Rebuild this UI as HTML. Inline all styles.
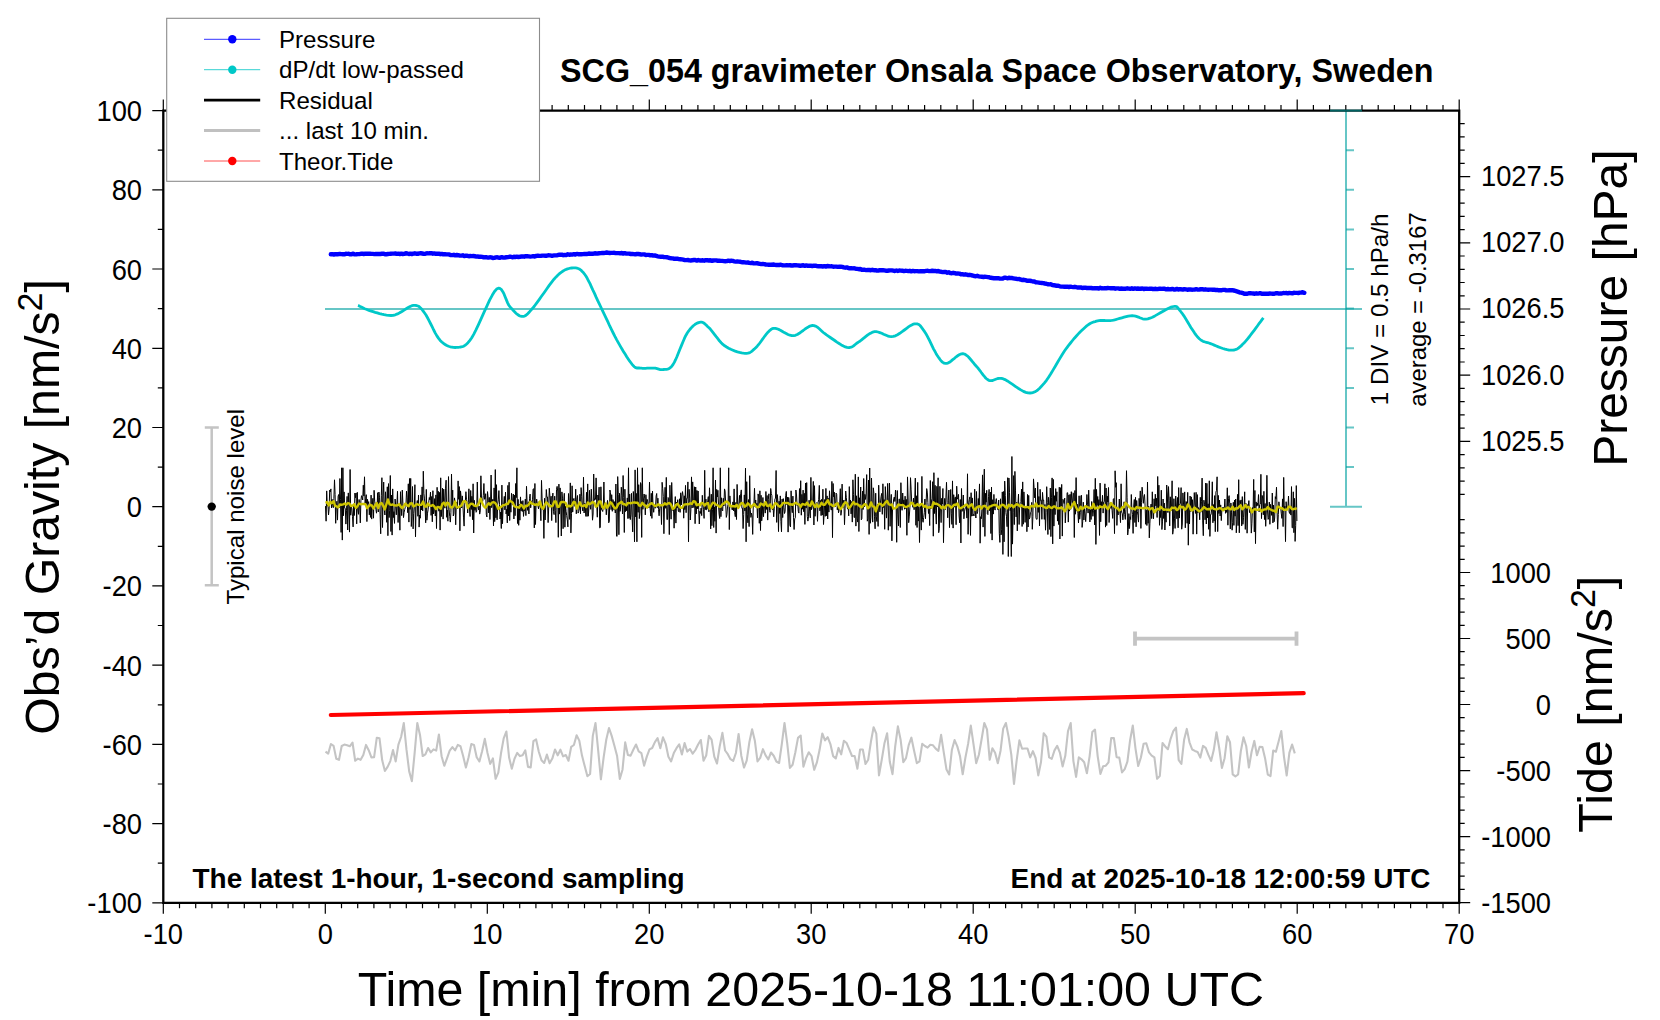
<!DOCTYPE html>
<html><head><meta charset="utf-8"><style>
html,body{margin:0;padding:0;background:#fff;width:1660px;height:1020px;overflow:hidden}
svg{display:block}
</style></head><body>
<svg width="1660" height="1020" viewBox="0 0 1660 1020" font-family='"Liberation Sans", sans-serif' fill="#000">
<rect width="1660" height="1020" fill="#fff"/>
<path d="M152.3 902.8H163.3M157.8 863.2H163.3M152.3 823.6H163.3M157.8 784H163.3M152.3 744.4H163.3M157.8 704.8H163.3M152.3 665.1H163.3M157.8 625.5H163.3M152.3 585.9H163.3M157.8 546.3H163.3M152.3 506.7H163.3M157.8 467.1H163.3M152.3 427.5H163.3M157.8 387.9H163.3M152.3 348.3H163.3M157.8 308.6H163.3M152.3 269H163.3M157.8 229.4H163.3M152.3 189.8H163.3M157.8 150.2H163.3M152.3 110.6H163.3M163.3 902.8V913.8M163.3 99.6V110.6M179.5 902.8V908.3M179.5 105.1V110.6M195.7 902.8V908.3M195.7 105.1V110.6M211.9 902.8V908.3M211.9 105.1V110.6M228.1 902.8V908.3M228.1 105.1V110.6M244.3 902.8V908.3M244.3 105.1V110.6M260.5 902.8V908.3M260.5 105.1V110.6M276.7 902.8V908.3M276.7 105.1V110.6M292.9 902.8V908.3M292.9 105.1V110.6M309.1 902.8V908.3M309.1 105.1V110.6M325.3 902.8V913.8M325.3 99.6V110.6M341.5 902.8V908.3M341.5 105.1V110.6M357.7 902.8V908.3M357.7 105.1V110.6M373.9 902.8V908.3M373.9 105.1V110.6M390.1 902.8V908.3M390.1 105.1V110.6M406.3 902.8V908.3M406.3 105.1V110.6M422.5 902.8V908.3M422.5 105.1V110.6M438.7 902.8V908.3M438.7 105.1V110.6M454.9 902.8V908.3M454.9 105.1V110.6M471.1 902.8V908.3M471.1 105.1V110.6M487.3 902.8V913.8M487.3 99.6V110.6M503.5 902.8V908.3M503.5 105.1V110.6M519.7 902.8V908.3M519.7 105.1V110.6M535.9 902.8V908.3M535.9 105.1V110.6M552.1 902.8V908.3M552.1 105.1V110.6M568.3 902.8V908.3M568.3 105.1V110.6M584.5 902.8V908.3M584.5 105.1V110.6M600.7 902.8V908.3M600.7 105.1V110.6M616.9 902.8V908.3M616.9 105.1V110.6M633.1 902.8V908.3M633.1 105.1V110.6M649.3 902.8V913.8M649.3 99.6V110.6M665.5 902.8V908.3M665.5 105.1V110.6M681.7 902.8V908.3M681.7 105.1V110.6M697.9 902.8V908.3M697.9 105.1V110.6M714.1 902.8V908.3M714.1 105.1V110.6M730.3 902.8V908.3M730.3 105.1V110.6M746.5 902.8V908.3M746.5 105.1V110.6M762.7 902.8V908.3M762.7 105.1V110.6M778.9 902.8V908.3M778.9 105.1V110.6M795.1 902.8V908.3M795.1 105.1V110.6M811.2 902.8V913.8M811.2 99.6V110.6M827.4 902.8V908.3M827.4 105.1V110.6M843.6 902.8V908.3M843.6 105.1V110.6M859.8 902.8V908.3M859.8 105.1V110.6M876 902.8V908.3M876 105.1V110.6M892.2 902.8V908.3M892.2 105.1V110.6M908.4 902.8V908.3M908.4 105.1V110.6M924.6 902.8V908.3M924.6 105.1V110.6M940.8 902.8V908.3M940.8 105.1V110.6M957 902.8V908.3M957 105.1V110.6M973.2 902.8V913.8M973.2 99.6V110.6M989.4 902.8V908.3M989.4 105.1V110.6M1005.6 902.8V908.3M1005.6 105.1V110.6M1021.8 902.8V908.3M1021.8 105.1V110.6M1038 902.8V908.3M1038 105.1V110.6M1054.2 902.8V908.3M1054.2 105.1V110.6M1070.4 902.8V908.3M1070.4 105.1V110.6M1086.6 902.8V908.3M1086.6 105.1V110.6M1102.8 902.8V908.3M1102.8 105.1V110.6M1119 902.8V908.3M1119 105.1V110.6M1135.2 902.8V913.8M1135.2 99.6V110.6M1151.4 902.8V908.3M1151.4 105.1V110.6M1167.6 902.8V908.3M1167.6 105.1V110.6M1183.8 902.8V908.3M1183.8 105.1V110.6M1200 902.8V908.3M1200 105.1V110.6M1216.2 902.8V908.3M1216.2 105.1V110.6M1232.4 902.8V908.3M1232.4 105.1V110.6M1248.6 902.8V908.3M1248.6 105.1V110.6M1264.8 902.8V908.3M1264.8 105.1V110.6M1281 902.8V908.3M1281 105.1V110.6M1297.2 902.8V913.8M1297.2 99.6V110.6M1313.4 902.8V908.3M1313.4 105.1V110.6M1329.6 902.8V908.3M1329.6 105.1V110.6M1345.8 902.8V908.3M1345.8 105.1V110.6M1362 902.8V908.3M1362 105.1V110.6M1378.2 902.8V908.3M1378.2 105.1V110.6M1394.4 902.8V908.3M1394.4 105.1V110.6M1410.6 902.8V908.3M1410.6 105.1V110.6M1426.8 902.8V908.3M1426.8 105.1V110.6M1443 902.8V908.3M1443 105.1V110.6M1459.2 902.8V913.8M1459.2 99.6V110.6M1459.2 494.4H1464.7M1459.2 481.1H1464.7M1459.2 467.9H1464.7M1459.2 454.6H1464.7M1459.2 441.4H1470.2M1459.2 428.2H1464.7M1459.2 414.9H1464.7M1459.2 401.7H1464.7M1459.2 388.4H1464.7M1459.2 375.2H1470.2M1459.2 362H1464.7M1459.2 348.7H1464.7M1459.2 335.5H1464.7M1459.2 322.2H1464.7M1459.2 309H1470.2M1459.2 295.8H1464.7M1459.2 282.5H1464.7M1459.2 269.3H1464.7M1459.2 256H1464.7M1459.2 242.8H1470.2M1459.2 229.6H1464.7M1459.2 216.3H1464.7M1459.2 203.1H1464.7M1459.2 189.8H1464.7M1459.2 176.6H1470.2M1459.2 163.4H1464.7M1459.2 150.1H1464.7M1459.2 136.9H1464.7M1459.2 123.6H1464.7M1459.2 902.6H1470.2M1459.2 889.4H1464.7M1459.2 876.2H1464.7M1459.2 863H1464.7M1459.2 849.8H1464.7M1459.2 836.6H1470.2M1459.2 823.4H1464.7M1459.2 810.2H1464.7M1459.2 797H1464.7M1459.2 783.8H1464.7M1459.2 770.6H1470.2M1459.2 757.4H1464.7M1459.2 744.2H1464.7M1459.2 730.9H1464.7M1459.2 717.7H1464.7M1459.2 704.5H1470.2M1459.2 691.3H1464.7M1459.2 678.1H1464.7M1459.2 664.9H1464.7M1459.2 651.7H1464.7M1459.2 638.5H1470.2M1459.2 625.3H1464.7M1459.2 612.1H1464.7M1459.2 598.9H1464.7M1459.2 585.7H1464.7M1459.2 572.5H1470.2M1459.2 559.3H1464.7M1459.2 546.1H1464.7M1459.2 532.9H1464.7M1459.2 519.7H1464.7" stroke="#000" stroke-width="1.2" fill="none"/>
<path d="M330.8 254.2 332.3 254.2 333.8 254.5 335.3 254.1 336.8 254.2 338.3 254.2 339.8 253.9 341.3 254.1 342.8 254.2 344.3 254.3 345.8 253.8 347.3 253.9 348.8 253.8 350.3 254.3 351.8 254.2 353.3 253.7 354.8 254.4 356.3 254.3 357.8 254.1 359.3 254.1 360.8 253.8 362.3 253.6 363.8 254 365.3 253.7 366.8 253.7 368.3 253.8 369.8 253.6 371.3 253.9 372.8 253.9 374.3 254.1 375.8 253.9 377.3 254 378.8 253.9 380.3 254 381.8 253.8 383.3 253.7 384.8 254.2 386.3 254.2 387.8 254 389.3 253.9 390.8 253.7 392.3 253.6 393.8 253.6 395.3 253.5 396.8 253.9 398.3 253.7 399.8 254 401.3 253.6 402.8 254 404.3 253.9 405.8 253.3 407.3 253.5 408.8 254 410.3 253.6 411.8 254 413.3 253.6 414.8 253.3 416.3 253.7 417.8 253.8 419.3 253.4 420.8 253.3 422.3 253.5 423.8 253.9 425.3 253.7 426.8 253.3 428.3 253.4 429.8 253.2 431.3 253.2 432.8 253.7 434.3 253.4 435.8 253.8 437.3 253.8 438.8 253.7 440.3 254.2 441.8 253.9 443.3 254.4 444.8 254.1 446.3 254.4 447.8 254.4 449.3 254.5 450.8 255.1 452.3 255.1 453.8 254.8 455.3 255.4 456.8 255 458.3 255.2 459.8 255.6 461.3 255.6 462.8 255.3 464.3 256.1 465.8 255.6 467.3 255.8 468.8 256.2 470.3 256 471.8 256.1 473.3 256 474.8 256.2 476.3 256.6 477.8 256.5 479.3 256.8 480.8 256.8 482.3 256.9 483.8 257.4 485.3 257.2 486.8 257.3 488.3 257.6 489.8 257.3 491.3 257.4 492.8 258 494.3 257.9 495.8 257.4 497.3 257.3 498.8 257.7 500.3 257.7 501.8 257.2 503.3 257.6 504.8 257.5 506.3 257.3 507.8 257.1 509.3 256.8 510.8 256.7 512.3 257.3 513.8 256.8 515.3 257 516.8 256.7 518.3 257 519.8 256.8 521.3 256.5 522.8 256.4 524.3 256.7 525.8 256.2 527.3 256.3 528.8 256.4 530.3 256.6 531.8 256.4 533.3 256.1 534.8 256.5 536.3 255.9 537.8 255.7 539.3 255.9 540.8 255.9 542.3 255.6 543.8 255.6 545.3 255.7 546.8 255.7 548.3 255.3 549.8 255.4 551.3 255.7 552.8 255.7 554.3 255.4 555.8 255.4 557.3 255.2 558.8 254.8 560.3 254.7 561.8 254.6 563.3 255.2 564.8 254.9 566.3 255.1 567.8 254.3 569.3 254.7 570.8 254.5 572.3 254.6 573.8 254.2 575.3 254.6 576.8 253.9 578.3 254.2 579.8 254.2 581.3 254.3 582.8 254.1 584.3 254 585.8 254 587.3 254 588.8 253.5 590.3 253.7 591.8 253.8 593.3 253.7 594.8 253.3 596.3 253.5 597.8 253.5 599.3 253.2 600.8 253.1 602.3 252.9 603.8 253 605.3 252.9 606.8 252.5 608.3 252.8 609.8 253 611.3 252.9 612.8 252.9 614.3 252.8 615.8 253.1 617.3 253.1 618.8 253.1 620.3 253.4 621.8 253 623.3 253.6 624.8 253.2 626.3 253.6 627.8 253.6 629.3 253.6 630.8 254 632.3 253.9 633.8 254.1 635.3 254.4 636.8 254 638.3 254 639.8 254.2 641.3 254.6 642.8 254.4 644.3 254.4 645.8 255 647.3 254.9 648.8 254.9 650.3 255.3 651.8 255.1 653.3 255.6 654.8 255.5 656.3 255.9 657.8 256.3 659.3 256.6 660.8 256.8 662.3 256.7 663.8 257 665.3 257.1 666.8 257.2 668.3 257.6 669.8 258.1 671.3 258.3 672.8 258.4 674.3 258.8 675.8 258.6 677.3 258.7 678.8 259.1 680.3 259.2 681.8 259.4 683.3 259.7 684.8 260.1 686.3 260.1 687.8 260 689.3 260.4 690.8 260.5 692.3 260.2 693.8 260 695.3 260 696.8 260.6 698.3 260 699.8 260.5 701.3 260.5 702.8 260.3 704.3 260.7 705.8 260.2 707.3 260.3 708.8 260.5 710.3 260.3 711.8 260.9 713.3 260.5 714.8 260.4 716.3 260.4 717.8 260.8 719.3 260.7 720.8 260.9 722.3 260.9 723.8 261.1 725.3 261.2 726.8 261.1 728.3 260.7 729.8 261 731.3 260.8 732.8 260.9 734.3 261.3 735.8 261.6 737.3 261.4 738.8 261.6 740.3 261.8 741.8 262.2 743.3 262.2 744.8 262.4 746.3 262.6 747.8 262.5 749.3 262.9 750.8 263.1 752.3 262.7 753.8 263.4 755.3 263.4 756.8 263.1 758.3 263.5 759.8 263.8 761.3 264.1 762.8 263.9 764.3 264.1 765.8 264.5 767.3 264.6 768.8 264.8 770.3 264.6 771.8 264.8 773.3 264.5 774.8 264.9 776.3 265 777.8 264.9 779.3 265 780.8 264.7 782.3 265.3 783.8 265.4 785.3 265.4 786.8 265.1 788.3 265.4 789.8 265.1 791.3 265.5 792.8 265.5 794.3 265.2 795.8 265.1 797.3 265.4 798.8 265.5 800.3 265.7 801.8 265.5 803.3 265.3 804.8 265.9 806.3 265.4 807.8 265.9 809.3 265.6 810.8 265.7 812.3 266.1 813.8 265.7 815.3 265.7 816.8 266 818.3 266.2 819.8 266.3 821.3 266.3 822.8 266.5 824.3 266.2 825.8 266.6 827.3 266 828.8 266.2 830.3 266.4 831.8 266.3 833.3 266.7 834.8 266.6 836.3 266.6 837.8 266.9 839.3 266.7 840.8 266.7 842.3 266.9 843.8 267.4 845.3 267.7 846.8 267.4 848.3 268 849.8 268.3 851.3 268.2 852.8 268.4 854.3 268.3 855.8 268.7 857.3 268.9 858.8 269.2 860.3 269 861.8 269.8 863.3 269.7 864.8 269.8 866.3 270.1 867.8 270 869.3 270 870.8 270.2 872.3 269.8 873.8 270.2 875.3 270.1 876.8 270.5 878.3 270.6 879.8 270.1 881.3 270.3 882.8 270.1 884.3 270.4 885.8 270.7 887.3 270.8 888.8 270.5 890.3 270.4 891.8 270.4 893.3 270.7 894.8 271 896.3 270.5 897.8 271 899.3 270.5 900.8 270.6 902.3 270.7 903.8 271.1 905.3 270.8 906.8 270.9 908.3 271.1 909.8 270.8 911.3 271.3 912.8 270.9 914.3 271.2 915.8 271.1 917.3 271.1 918.8 271.4 920.3 271.3 921.8 271.3 923.3 271.2 924.8 271.2 926.3 270.9 927.8 270.8 929.3 271.1 930.8 271 932.3 270.8 933.8 271 935.3 270.9 936.8 271.3 938.3 271 939.8 271.6 941.3 271.8 942.8 272.1 944.3 271.9 945.8 272 947.3 272.7 948.8 272.3 950.3 273.1 951.8 273.2 953.3 272.8 954.8 273.1 956.3 273.6 957.8 273.5 959.3 273.6 960.8 274.3 962.3 274.2 963.8 274.6 965.3 274.3 966.8 274.7 968.3 275.1 969.8 274.8 971.3 275.1 972.8 275.7 974.3 276 975.8 276.2 977.3 275.8 978.8 276.3 980.3 276.6 981.8 276.7 983.3 277 984.8 276.8 986.3 276.9 987.8 277.1 989.3 277.3 990.8 277.8 992.3 278 993.8 278.2 995.3 278.1 996.8 278.3 998.3 278.2 999.8 278.6 1001.3 278.6 1002.8 278.5 1004.3 277.8 1005.8 277.7 1007.3 278.3 1008.8 277.8 1010.3 278 1011.8 278 1013.3 278.3 1014.8 278.6 1016.3 278.8 1017.8 279.1 1019.3 279 1020.8 279.7 1022.3 280 1023.8 279.8 1025.3 280.2 1026.8 280.7 1028.3 280.7 1029.8 280.8 1031.3 281 1032.8 281.5 1034.3 281.4 1035.8 282.2 1037.3 282.4 1038.8 282.6 1040.3 282.9 1041.8 283 1043.3 283.1 1044.8 283.5 1046.3 283.7 1047.8 284.3 1049.3 284.4 1050.8 284.3 1052.3 285 1053.8 285.2 1055.3 285.5 1056.8 285.8 1058.3 285.7 1059.8 286.3 1061.3 286.6 1062.8 286.6 1064.3 286.7 1065.8 286.8 1067.3 286.7 1068.8 287 1070.3 286.6 1071.8 286.9 1073.3 287.1 1074.8 286.8 1076.3 287.2 1077.8 287.5 1079.3 287.5 1080.8 287.4 1082.3 288 1083.8 287.8 1085.3 287.7 1086.8 288 1088.3 288 1089.8 288 1091.3 288 1092.8 288.4 1094.3 288.2 1095.8 288.2 1097.3 288.3 1098.8 288.5 1100.3 287.8 1101.8 288.3 1103.3 288.4 1104.8 288.1 1106.3 288.2 1107.8 288 1109.3 288.1 1110.8 288.2 1112.3 288.1 1113.8 288.2 1115.3 288.7 1116.8 288.4 1118.3 288.4 1119.8 288.8 1121.3 288.5 1122.8 288.8 1124.3 288.6 1125.8 288.7 1127.3 288.3 1128.8 288.6 1130.3 288.8 1131.8 288.3 1133.3 288.9 1134.8 288.4 1136.3 288.7 1137.8 288.5 1139.3 288.7 1140.8 288.8 1142.3 288.4 1143.8 289.1 1145.3 288.7 1146.8 288.8 1148.3 288.9 1149.8 288.8 1151.3 288.7 1152.8 289 1154.3 289 1155.8 288.8 1157.3 289.1 1158.8 288.8 1160.3 288.7 1161.8 288.9 1163.3 288.7 1164.8 288.8 1166.3 289.3 1167.8 289 1169.3 289.4 1170.8 289.3 1172.3 288.9 1173.8 289.5 1175.3 289.5 1176.8 288.9 1178.3 289.5 1179.8 289.2 1181.3 289.3 1182.8 289.6 1184.3 289.1 1185.8 289.4 1187.3 289.7 1188.8 289.5 1190.3 289.4 1191.8 289.7 1193.3 289.6 1194.8 289.5 1196.3 289.2 1197.8 289.6 1199.3 289.5 1200.8 289.3 1202.3 289.2 1203.8 289.6 1205.3 289.3 1206.8 289.6 1208.3 289.7 1209.8 289.6 1211.3 289.6 1212.8 289.8 1214.3 289.8 1215.8 290 1217.3 289.9 1218.8 290.3 1220.3 290.3 1221.8 290.2 1223.3 289.9 1224.8 289.9 1226.3 290.4 1227.8 290.4 1229.3 290.3 1230.8 290.2 1232.3 290.2 1233.8 290.5 1235.3 290.9 1236.8 291.4 1238.3 291.9 1239.8 292.5 1241.3 292.6 1242.8 293.1 1244.3 293.8 1245.8 293.8 1247.3 293.8 1248.8 293.2 1250.3 293.2 1251.8 293.4 1253.3 293.5 1254.8 293.7 1256.3 293.3 1257.8 293.6 1259.3 293.3 1260.8 293.3 1262.3 293.8 1263.8 293.7 1265.3 293.8 1266.8 293.6 1268.3 293.7 1269.8 293.5 1271.3 293.6 1272.8 293.8 1274.3 293.8 1275.8 293.2 1277.3 293.2 1278.8 293.6 1280.3 293.4 1281.8 293.5 1283.3 293 1284.8 293.1 1286.3 293 1287.8 293.3 1289.3 292.9 1290.8 293.1 1292.3 293.3 1293.8 292.8 1295.3 292.9 1296.8 292.9 1298.3 293 1299.8 292.6 1301.3 292.5 1302.8 292.3 1304.3 292.8" stroke="#0000ff" stroke-width="4.4" fill="none" stroke-linejoin="round" stroke-linecap="round"/>
<g stroke="#00a0a0" stroke-opacity="0.6" stroke-width="2" fill="none">
<path d="M325 309H1362"/>
<path d="M1346 110.6V506.8M1330 506.8H1362"/>
<path d="M1346 467.1H1354M1346 427.5H1354M1346 387.9H1354M1346 348.3H1354M1346 308.6H1354M1346 269H1354M1346 229.4H1354M1346 189.8H1354M1346 150.2H1354"/>
</g>
<path d="M358 305.4 358.8 305.7 359.7 306.2 360.7 306.7 361.9 307.3 363.3 308 364.7 308.7 366.3 309.3 367.9 310 369.6 310.6 371.3 311.1 373.1 311.6 375.2 312.3 377.3 312.9 379.5 313.6 381.8 314.2 384.1 314.7 386.5 315.1 388.8 315.4 391 315.5 393.2 315.3 395.3 314.8 397.5 313.9 399.7 312.8 401.9 311.5 404.1 310.1 406.2 308.8 408.2 307.5 410.1 306.5 411.9 305.7 413.6 305.4 415.1 305.4 416.3 305.5 417.4 305.8 418.5 306.2 419.4 306.9 420.3 307.7 421.3 308.7 422.3 309.9 423.4 311.4 424.6 313 426 315 427.4 317.5 428.9 320.4 430.5 323.5 432.1 326.7 433.7 330 435.3 333.1 436.9 335.9 438.6 338.4 440.2 340.4 441.8 342 443.5 343.4 445.1 344.5 446.8 345.5 448.5 346.2 450.2 346.8 451.8 347.1 453.5 347.4 455.1 347.5 456.7 347.4 458.2 347.3 459.6 347.2 461 347 462.3 346.7 463.6 346.2 465 345.4 466.4 344.2 468 342.7 469.7 340.6 471.6 338 473.7 334.4 476.1 329.7 478.7 324.1 481.4 318.1 484.2 311.9 487 305.8 489.6 300.1 492.2 295.3 494.5 291.5 496.6 289.1 498.4 288.2 500 288.5 501.5 289.7 502.8 291.7 504.1 294.2 505.2 297 506.4 299.9 507.5 302.6 508.7 305 509.9 306.7 511.1 308.1 512.4 309.4 513.6 310.8 514.8 312 516 313.2 517.1 314.2 518.3 315 519.4 315.7 520.6 316.2 521.7 316.4 522.8 316.4 523.7 316.3 524.6 316 525.5 315.6 526.4 314.9 527.4 314.1 528.4 313 529.6 311.7 531 310.1 532.6 308.3 534.5 306 536.6 303.2 539 299.9 541.5 296.3 544.1 292.7 546.7 289 549.2 285.4 551.7 282.1 554 279.2 556.1 276.9 558 275 559.8 273.4 561.5 272.1 563.1 271 564.6 270.1 566.1 269.4 567.6 268.9 569 268.5 570.4 268.2 571.8 268 573.2 267.9 574.5 267.8 575.7 267.9 576.9 268.1 578.1 268.5 579.3 269 580.5 269.8 581.7 270.9 583 272.2 584.3 273.8 585.7 275.8 587.1 278.1 588.5 280.8 590 283.7 591.4 286.8 592.9 290.1 594.5 293.4 596 296.9 597.6 300.3 599.2 303.6 600.8 307 602.5 310.6 604.3 314.3 606.1 318.1 607.9 321.9 609.6 325.7 611.4 329.4 613.2 333 614.9 336.4 616.6 339.6 618.3 342.6 620 345.6 621.7 348.6 623.4 351.4 625.1 354.1 626.7 356.7 628.2 359 629.7 361.2 631.1 363 632.3 364.6 633.4 365.8 634.3 366.7 635 367.3 635.7 367.7 636.3 367.9 636.9 368 637.5 368 638.3 368 639.1 368 640.1 368.1 641.3 368.2 642.6 368.3 644 368.3 645.6 368.3 647.1 368.2 648.7 368.2 650.2 368.1 651.6 368.1 653 368.1 654.2 368.1 655.3 368.2 656.2 368.4 657.1 368.6 658 368.9 658.7 369.2 659.5 369.4 660.3 369.6 661.1 369.7 661.9 369.7 662.8 369.6 663.7 369.5 664.7 369.4 665.6 369.4 666.6 369.3 667.6 369.2 668.6 368.8 669.6 368.2 670.7 367.4 671.8 366.2 673 364.6 674.3 362.4 675.6 359.7 677 356.5 678.4 353 679.9 349.3 681.4 345.6 682.9 342 684.3 338.7 685.7 335.7 687.1 333.3 688.4 331.3 689.8 329.5 691.1 328 692.4 326.6 693.6 325.5 694.9 324.5 696.1 323.7 697.3 323.1 698.5 322.6 699.6 322.3 700.6 322.1 701.6 322.1 702.4 322.3 703.3 322.7 704.1 323.2 704.9 323.9 705.8 324.7 706.8 325.6 707.8 326.7 709 327.8 710.3 329.1 711.7 330.8 713.1 332.6 714.6 334.6 716.2 336.7 717.8 338.7 719.4 340.8 721.2 342.7 722.9 344.4 724.7 345.8 726.6 347 728.6 348.2 730.8 349.3 733 350.2 735.2 351.1 737.4 351.8 739.5 352.4 741.6 352.9 743.4 353.2 745.1 353.4 746.6 353.4 747.9 353.2 749 352.9 750.1 352.4 751 351.9 752 351.2 752.9 350.3 753.9 349.4 754.9 348.5 756 347.4 757.2 346.2 758.5 344.7 759.8 343 761.1 341.2 762.4 339.4 763.8 337.5 765 335.8 766.3 334.2 767.4 332.8 768.5 331.7 769.4 330.8 770.2 330.1 770.9 329.5 771.5 329.1 772.2 328.7 772.8 328.5 773.5 328.4 774.3 328.4 775.3 328.4 776.4 328.6 777.7 329 779.2 329.6 780.8 330.5 782.5 331.5 784.3 332.6 786.2 333.6 788 334.5 789.9 335.2 791.8 335.6 793.6 335.7 795.4 335.3 797.3 334.5 799.3 333.3 801.2 331.9 803.2 330.5 805.1 329 807.1 327.7 808.9 326.6 810.7 325.8 812.4 325.5 814 325.6 815.4 326.1 816.8 326.8 818.1 327.7 819.3 328.8 820.6 330 821.9 331.2 823.3 332.5 824.9 333.7 826.5 334.9 828.3 336.1 830.3 337.5 832.5 339 834.7 340.5 836.9 342.1 839.1 343.5 841.3 344.9 843.4 346 845.3 346.9 847 347.4 848.5 347.6 849.9 347.5 851.1 347.2 852.2 346.7 853.2 346.1 854.2 345.3 855.2 344.5 856.3 343.6 857.5 342.7 858.8 341.9 860.2 341 861.6 339.9 863.1 338.7 864.7 337.4 866.2 336.2 867.8 334.9 869.4 333.8 871.1 332.9 872.8 332.1 874.5 331.7 876.2 331.6 878 332 879.8 332.6 881.7 333.3 883.6 334.2 885.5 335 887.4 335.8 889.3 336.3 891.3 336.6 893.3 336.4 895.4 335.8 897.5 334.7 899.8 333.3 902.1 331.7 904.4 330 906.6 328.3 908.8 326.7 910.8 325.4 912.7 324.4 914.4 323.9 915.9 323.8 917.1 323.9 918.2 324.3 919.2 324.8 920 325.5 920.9 326.5 921.7 327.6 922.6 328.8 923.5 330.2 924.6 331.7 925.8 333.5 927 335.6 928.3 338.1 929.6 340.7 930.9 343.4 932.2 346.1 933.5 348.8 934.8 351.2 936 353.4 937.1 355.2 938.1 356.7 939.1 358.1 939.9 359.3 940.7 360.4 941.6 361.4 942.4 362.1 943.3 362.7 944.2 363.2 945.3 363.4 946.5 363.4 947.9 363.1 949.4 362.3 951 361.1 952.7 359.7 954.5 358.3 956.2 356.8 958 355.5 959.7 354.5 961.4 353.9 962.9 353.7 964.4 354 965.8 354.8 967.2 355.8 968.5 357 969.8 358.5 971.1 360 972.4 361.6 973.7 363.2 975 364.8 976.3 366.2 977.6 367.6 978.8 369.2 980.1 370.8 981.3 372.5 982.5 374.1 983.7 375.7 985 377.2 986.2 378.5 987.5 379.5 988.8 380.3 990.1 380.7 991.3 380.7 992.6 380.5 993.8 380 995.1 379.5 996.4 379 997.8 378.5 999.4 378.3 1001 378.3 1002.9 378.7 1005 379.6 1007.4 380.9 1009.9 382.6 1012.6 384.4 1015.3 386.3 1018.1 388.2 1020.8 389.9 1023.4 391.4 1025.8 392.4 1028 392.9 1030 393 1031.8 392.8 1033.4 392.4 1035 391.8 1036.5 390.9 1037.9 389.8 1039.4 388.4 1041 386.8 1042.7 384.9 1044.5 382.8 1046.5 380.3 1048.6 377.2 1050.8 373.8 1053 370.1 1055.3 366.2 1057.6 362.3 1059.9 358.4 1062.1 354.7 1064.3 351.3 1066.4 348.3 1068.4 345.6 1070.5 343 1072.5 340.5 1074.4 338.2 1076.4 336 1078.3 333.9 1080.1 332 1081.9 330.3 1083.6 328.7 1085.2 327.2 1086.7 325.9 1088.1 324.9 1089.4 324 1090.6 323.3 1091.7 322.8 1092.9 322.3 1094 321.9 1095.2 321.6 1096.4 321.2 1097.7 320.9 1099 320.6 1100.3 320.5 1101.6 320.5 1102.9 320.5 1104.3 320.5 1105.6 320.6 1107.1 320.7 1108.6 320.7 1110.1 320.6 1111.8 320.4 1113.6 320.1 1115.6 319.6 1117.6 319 1119.7 318.4 1121.9 317.8 1124.1 317.2 1126.2 316.7 1128.3 316.2 1130.3 315.9 1132.2 315.7 1133.9 315.8 1135.5 316.1 1137 316.6 1138.4 317.1 1139.8 317.8 1141.2 318.3 1142.6 318.8 1144.2 319.1 1145.9 319.2 1147.8 318.9 1149.9 318.2 1152.4 317.2 1154.9 315.9 1157.6 314.4 1160.4 312.8 1163.1 311.2 1165.7 309.7 1168.1 308.4 1170.3 307.4 1172.1 306.8 1173.6 306.5 1174.7 306.3 1175.6 306.3 1176.3 306.5 1176.8 306.8 1177.4 307.3 1178 308 1178.7 308.9 1179.6 310.1 1180.7 311.5 1182.1 313.3 1183.7 315.6 1185.4 318.3 1187.2 321.2 1189 324.3 1190.9 327.4 1192.8 330.3 1194.6 333.1 1196.3 335.4 1197.9 337.3 1199.3 338.7 1200.6 339.8 1201.8 340.6 1202.9 341.2 1204 341.7 1205.1 342 1206.3 342.3 1207.6 342.6 1208.9 343 1210.5 343.6 1212.3 344.3 1214.2 345.1 1216.3 346 1218.4 346.9 1220.7 347.7 1222.9 348.5 1225 349.2 1227.1 349.7 1229 350.1 1230.8 350.2 1232.3 350.2 1233.7 350 1234.9 349.8 1236 349.4 1237.1 348.9 1238.2 348.3 1239.3 347.4 1240.5 346.4 1241.9 345.1 1243.4 343.6 1245.2 341.7 1247.2 339.3 1249.5 336.5 1251.8 333.4 1254.2 330.3 1256.5 327.2 1258.6 324.2 1260.6 321.6 1262.2 319.4 1263.4 317.8" stroke="#00c8c8" stroke-width="2.8" fill="none" stroke-linejoin="round"/>
<path d="M325.5 506.1 326.1 521.2 326.7 490.9 327.3 506.1 327.9 503.8 328.5 515 329.1 509.2 329.7 490.1 330.3 491.9 330.9 488.9 331.5 508 332.1 499.3 332.7 505.6 333.3 507.7 333.9 498.4 334.5 479.8 335.1 494.4 335.7 523.3 336.3 502.7 336.9 501.3 337.5 520.1 338.1 496.3 338.7 494.5 339.3 507.8 339.9 478.5 340.5 499.2 341.1 532.4 341.7 467.8 342.3 540.1 342.9 467.8 343.5 515.7 344.1 491.9 344.7 508.2 345.3 508.4 345.9 524.1 346.5 510.8 347.1 496.4 347.7 530 348.3 492.9 348.9 506.3 349.5 532.1 350.1 469.5 350.7 515.2 351.3 506.2 351.9 508.8 352.5 516.5 353.1 526.9 353.7 504.2 354.3 515.5 354.9 493.1 355.5 497.7 356.1 493 356.7 523.9 357.3 492.3 357.9 510.1 358.5 514.3 359.1 499.5 359.7 506 360.3 522.9 360.9 500.8 361.5 495.7 362.1 497.1 362.7 500 363.3 485.2 363.9 496.1 364.5 476.8 365.1 504.7 365.7 498.3 366.3 494.7 366.9 521.6 367.5 499.3 368.1 503.6 368.7 501.7 369.3 514.8 369.9 506.8 370.5 517.4 371.1 495.1 371.7 519.1 372.3 504.8 372.9 498.3 373.5 518.2 374.1 490.3 374.7 501.2 375.3 504.4 375.9 509.4 376.5 513.2 377.1 506.2 377.7 492.7 378.3 512 378.9 492 379.5 497.2 380.1 514.2 380.7 533.8 381.3 495.6 381.9 477.7 382.5 527.5 383.1 496.1 383.7 482.1 384.3 509.7 384.9 515 385.5 491.8 386.1 503.5 386.7 522.3 387.3 486.8 387.9 535.7 388.5 483.6 389.1 517.6 389.7 510.4 390.3 475.5 390.9 531.5 391.5 495 392.1 535.1 392.7 488.9 393.3 517.6 393.9 511.7 394.5 523.4 395.1 499 395.7 505.3 396.3 514.8 396.9 504.6 397.5 491.3 398.1 522.5 398.7 505.2 399.3 507 399.9 530.2 400.5 491.7 401.1 504.7 401.7 515.6 402.3 490.1 402.9 503.3 403.5 517.6 404.1 512.4 404.7 509.6 405.3 507.2 405.9 506.6 406.5 491.2 407.1 497.7 407.7 512.7 408.3 483.8 408.9 522.1 409.5 478.5 410.1 509.4 410.7 478.4 411.3 526.5 411.9 516.3 412.5 486.5 413.1 528.9 413.7 513.6 414.3 507 414.9 484.7 415.5 536.8 416.1 504.4 416.7 505.5 417.3 500.5 417.9 516.3 418.5 495 419.1 527.1 419.7 515 420.3 518.2 420.9 494.9 421.5 510 422.1 486.9 422.7 510.9 423.3 471.2 423.9 493.3 424.5 498.9 425.1 506.9 425.7 522.8 426.3 489.4 426.9 520.2 427.5 513.2 428.1 509.8 428.7 502.9 429.3 497.5 429.9 499.9 430.5 492.1 431.1 515.4 431.7 496.5 432.3 521.8 432.9 490.7 433.5 513.9 434.1 511.4 434.7 498.6 435.3 516 435.9 494.9 436.5 528.5 437.1 487.3 437.7 505.9 438.3 491.3 438.9 511.2 439.5 492.4 440.1 530.1 440.7 477.8 441.3 516.6 441.9 508.2 442.5 488.1 443.1 519.1 443.7 489.1 444.3 500.8 444.9 508.2 445.5 488.2 446.1 480.2 446.7 517.3 447.3 510.1 447.9 521.2 448.5 476.6 449.1 509.2 449.7 516.3 450.3 522.1 450.9 512.8 451.5 474 452.1 505.8 452.7 490.1 453.3 516 453.9 513.8 454.5 497.9 455.1 504.1 455.7 524.8 456.3 502.9 456.9 502.1 457.5 508.9 458.1 480.9 458.7 499.3 459.3 486.6 459.9 530.8 460.5 490.9 461.1 497.1 461.7 508 462.3 495.9 462.9 504.5 463.5 517.1 464.1 526.1 464.7 504.1 465.3 501.9 465.9 491.7 466.5 499.5 467.1 503.4 467.7 513 468.3 502.4 468.9 488.8 469.5 509.1 470.1 516.5 470.7 490.5 471.3 509.5 471.9 496.3 472.5 519.7 473.1 483.8 473.7 533 474.3 500.3 474.9 510.3 475.5 506.4 476.1 512.3 476.7 511.2 477.3 482 477.9 505.7 478.5 509.8 479.1 506.1 479.7 514.1 480.3 510.9 480.9 475.8 481.5 498.1 482.1 501.4 482.7 501.6 483.3 495.4 483.9 483.5 484.5 499.3 485.1 498.5 485.7 493.7 486.3 514.5 486.9 517 487.5 491.6 488.1 497.8 488.7 512.9 489.3 497.4 489.9 519.5 490.5 503.6 491.1 475 491.7 507.7 492.3 501.3 492.9 499.2 493.5 526 494.1 487.9 494.7 521.6 495.3 469.6 495.9 517.8 496.5 484.7 497.1 519.8 497.7 503.8 498.3 499.9 498.9 490.6 499.5 504.7 500.1 519 500.7 512 501.3 528.5 501.9 485.1 502.5 523.7 503.1 507.4 503.7 504 504.3 496.4 504.9 509.9 505.5 492 506.1 513.9 506.7 509.3 507.3 522.9 507.9 485.4 508.5 516 509.1 482.2 509.7 520.5 510.3 500.5 510.9 512.2 511.5 493.3 512.1 500.2 512.7 504.9 513.3 494 513.9 519 514.5 495.2 515.1 515.7 515.7 483.5 516.3 497.6 516.9 467.8 517.5 523.5 518.1 499.4 518.7 525.3 519.3 504.2 519.9 520.2 520.5 496.9 521.1 510.9 521.7 501.4 522.3 511.5 522.9 500.6 523.5 516.4 524.1 509.6 524.7 510.7 525.3 499.1 525.9 515.6 526.5 486.3 527.1 502.9 527.7 510.4 528.3 501.8 528.9 514 529.5 498.3 530.1 494.1 530.7 507.8 531.3 500.9 531.9 503.5 532.5 499.8 533.1 489.2 533.7 488.6 534.3 527.9 534.9 483.5 535.5 524.5 536.1 503.9 536.7 499.2 537.3 504 537.9 505.3 538.5 508.9 539.1 501.6 539.7 504.9 540.3 508 540.9 520.7 541.5 480.4 542.1 498.8 542.7 509.3 543.3 508.2 543.9 538.4 544.5 498.3 545.1 520 545.7 507.2 546.3 489.5 546.9 497.3 547.5 497 548.1 522.6 548.7 507.8 549.3 488.2 549.9 496 550.5 504.2 551.1 496.2 551.7 520.6 552.3 498 552.9 493.1 553.5 511.7 554.1 514.6 554.7 496.2 555.3 510.2 555.9 522.6 556.5 489.4 557.1 486.4 557.7 491 558.3 537.3 558.9 484.1 559.5 514.1 560.1 487.9 560.7 502.5 561.3 536 561.9 491.9 562.5 498.2 563.1 528.7 563.7 502.1 564.3 493.3 564.9 527.2 565.5 506 566.1 511.3 566.7 515.6 567.3 519.8 567.9 526.9 568.5 493.5 569.1 503 569.7 519.4 570.3 482.9 570.9 532.9 571.5 513.5 572.1 485.8 572.7 512.1 573.3 500.4 573.9 498.4 574.5 505.2 575.1 506.5 575.7 489.2 576.3 513.8 576.9 499.3 577.5 495.5 578.1 513.1 578.7 511.6 579.3 508.9 579.9 494.2 580.5 513.7 581.1 487.6 581.7 496.3 582.3 507.9 582.9 511 583.5 477.2 584.1 513 584.7 503.1 585.3 507.6 585.9 516.4 586.5 492.3 587.1 516.4 587.7 483.9 588.3 516.2 588.9 508.3 589.5 490.3 590.1 505.8 590.7 509.3 591.3 489.2 591.9 503.7 592.5 520.2 593.1 514 593.7 474 594.3 500.4 594.9 498.7 595.5 499.4 596.1 477.9 596.7 503 597.3 517.2 597.9 495 598.5 501.3 599.1 487.2 599.7 527.9 600.3 527.5 600.9 486.8 601.5 509.7 602.1 510.1 602.7 511.5 603.3 507.1 603.9 482 604.5 509.1 605.1 503.9 605.7 503.9 606.3 514.8 606.9 505.8 607.5 500.4 608.1 505.1 608.7 522.8 609.3 521.6 609.9 490 610.5 492.6 611.1 509.6 611.7 494.7 612.3 511.3 612.9 499.5 613.5 501.9 614.1 510.1 614.7 501.6 615.3 513 615.9 484 616.5 536.1 617.1 536.4 617.7 476.6 618.3 494.4 618.9 534.7 619.5 493.3 620.1 511.4 620.7 506 621.3 487.2 621.9 495.3 622.5 514 623.1 475.5 623.7 497.5 624.3 532.5 624.9 489.2 625.5 511.6 626.1 506.7 626.7 510.8 627.3 497.9 627.9 518.6 628.5 467.8 629.1 518.3 629.7 494.1 630.3 519.6 630.9 514.2 631.5 493.3 632.1 517.3 632.7 531.9 633.3 491.5 633.9 501 634.5 541.8 635.1 469.9 635.7 516.9 636.3 493.4 636.9 541.8 637.5 467.8 638.1 512.3 638.7 484.7 639.3 518.6 639.9 513.4 640.5 482.6 641.1 484.2 641.7 537.4 642.3 467.8 642.9 509.3 643.5 500.1 644.1 494 644.7 498.1 645.3 514.9 645.9 494.7 646.5 504.5 647.1 499.3 647.7 501.8 648.3 505.2 648.9 507.9 649.5 482.1 650.1 508 650.7 516.1 651.3 493.3 651.9 518.4 652.5 491 653.1 507.6 653.7 512.3 654.3 504.9 654.9 507.2 655.5 508.2 656.1 496.1 656.7 493.5 657.3 507.7 657.9 498.2 658.5 509.5 659.1 515.8 659.7 508.3 660.3 505.3 660.9 505.4 661.5 524.5 662.1 482.3 662.7 488.3 663.3 496.6 663.9 533.7 664.5 504.9 665.1 487.3 665.7 508.3 666.3 477.4 666.9 519.6 667.5 519.4 668.1 497.5 668.7 498.7 669.3 534.6 669.9 485.2 670.5 503 671.1 519.2 671.7 482.5 672.3 502 672.9 510.6 673.5 508.1 674.1 528.2 674.7 508.2 675.3 496.6 675.9 523.1 676.5 502.1 677.1 508 677.7 499.7 678.3 511.1 678.9 511.8 679.5 498.8 680.1 512.4 680.7 492.8 681.3 505 681.9 495.9 682.5 491.6 683.1 496.2 683.7 518.2 684.3 495.8 684.9 509.6 685.5 485.4 686.1 512.7 686.7 498.3 687.3 498.3 687.9 481.9 688.5 541.8 689.1 489.3 689.7 498.2 690.3 520 690.9 509.8 691.5 476.9 692.1 508 692.7 481.9 693.3 500.3 693.9 507.6 694.5 486.8 695.1 523.7 695.7 487 696.3 513.9 696.9 490.4 697.5 508.7 698.1 491 698.7 509.7 699.3 524 699.9 511.3 700.5 513.4 701.1 508.1 701.7 515.6 702.3 495.3 702.9 505.2 703.5 509.5 704.1 518.4 704.7 470.3 705.3 509.7 705.9 499.1 706.5 509.8 707.1 509.3 707.7 500.8 708.3 496.6 708.9 511.9 709.5 487.8 710.1 503.8 710.7 528.9 711.3 494.2 711.9 525.7 712.5 509.7 713.1 467.8 713.7 527.5 714.3 507 714.9 521.3 715.5 480.1 716.1 533.1 716.7 489.4 717.3 497 717.9 490.3 718.5 505 719.1 514 719.7 518.5 720.3 467.8 720.9 516.7 721.5 497.8 722.1 510.1 722.7 510.9 723.3 498.3 723.9 506 724.5 488.9 725.1 491.1 725.7 504.1 726.3 517.4 726.9 514.7 727.5 506.9 728.1 504.3 728.7 467.8 729.3 529.6 729.9 495.9 730.5 507.1 731.1 505.6 731.7 507.6 732.3 510 732.9 501.9 733.5 510.8 734.1 488.9 734.7 512.7 735.3 516.7 735.9 502.4 736.5 519.5 737.1 484.4 737.7 504.4 738.3 508 738.9 504.2 739.5 495.4 740.1 503.6 740.7 493.7 741.3 489.9 741.9 508.3 742.5 508.1 743.1 528.6 743.7 514.6 744.3 494.9 744.9 510.9 745.5 468.2 746.1 541.8 746.7 481.7 747.3 514.2 747.9 522.8 748.5 499.6 749.1 526.6 749.7 475.7 750.3 509.8 750.9 517.4 751.5 513.1 752.1 515.9 752.7 534.4 753.3 503.9 753.9 504.6 754.5 488.3 755.1 506.8 755.7 500 756.3 507.9 756.9 503.3 757.5 517.9 758.1 493.9 758.7 496.9 759.3 523.3 759.9 490.8 760.5 530.5 761.1 495.3 761.7 520.8 762.3 514 762.9 497.5 763.5 516.7 764.1 504.2 764.7 505.5 765.3 513.1 765.9 491.5 766.5 509.4 767.1 495.5 767.7 520.1 768.3 499.5 768.9 493.8 769.5 510.5 770.1 512.3 770.7 488.5 771.3 493.5 771.9 495.7 772.5 509.8 773.1 507.2 773.7 516.8 774.3 508.2 774.9 499.1 775.5 498.1 776.1 470.5 776.7 522.4 777.3 494.6 777.9 501.3 778.5 531.6 779.1 501.2 779.7 513.5 780.3 495.9 780.9 521.3 781.5 531.8 782.1 499.1 782.7 517.6 783.3 498.6 783.9 507.3 784.5 513.5 785.1 511.6 785.7 495.3 786.3 491.4 786.9 504.9 787.5 497.1 788.1 532.1 788.7 497.4 789.3 502.7 789.9 525.5 790.5 526.9 791.1 490.8 791.7 507.3 792.3 512.7 792.9 496.1 793.5 517.2 794.1 529.5 794.7 518.8 795.3 517.8 795.9 490 796.5 495 797.1 505.5 797.7 503.2 798.3 511.2 798.9 513.1 799.5 488.6 800.1 506.8 800.7 480.7 801.3 515.2 801.9 494.4 802.5 509.2 803.1 490.1 803.7 511.7 804.3 493.3 804.9 524.4 805.5 483.1 806.1 508.1 806.7 482.6 807.3 516.3 807.9 521.1 808.5 516.9 809.1 500.2 809.7 511.9 810.3 517.9 810.9 477.4 811.5 509.7 812.1 507.5 812.7 503 813.3 481.4 813.9 525 814.5 485.7 815.1 516.3 815.7 503.9 816.3 503.4 816.9 502.5 817.5 521.3 818.1 502.8 818.7 499.3 819.3 485.4 819.9 510.9 820.5 500.5 821.1 515.6 821.7 499.3 822.3 515.1 822.9 489.2 823.5 524.5 824.1 514.4 824.7 499.5 825.3 516.3 825.9 488.4 826.5 515.7 827.1 495.9 827.7 519 828.3 498.3 828.9 512.1 829.5 490.8 830.1 502 830.7 507.1 831.3 510.1 831.9 481.4 832.5 537.6 833.1 483.5 833.7 496.8 834.3 492.1 834.9 507 835.5 506.5 836.1 493.1 836.7 494.4 837.3 509.8 837.9 502.5 838.5 512.8 839.1 510.4 839.7 502.9 840.3 488.7 840.9 515.3 841.5 510.9 842.1 484.1 842.7 508 843.3 504 843.9 500 844.5 524.7 845.1 508.2 845.7 491 846.3 497.5 846.9 503.2 847.5 509.1 848.1 503.5 848.7 515.9 849.3 486.6 849.9 508 850.5 500.1 851.1 513.9 851.7 501.5 852.3 522.1 852.9 479.8 853.5 494.7 854.1 517.5 854.7 517.4 855.3 474.2 855.9 526.1 856.5 495.8 857.1 518.3 857.7 522.1 858.3 476.9 858.9 531.5 859.5 497.8 860.1 504.1 860.7 487 861.3 519.8 861.9 518.5 862.5 491.2 863.1 509.5 863.7 478.5 864.3 506.9 864.9 494.3 865.5 499.4 866.1 494.4 866.7 474.6 867.3 521.2 867.9 518.7 868.5 480 869.1 534.4 869.7 468 870.3 523.3 870.9 517.5 871.5 478.1 872.1 503.1 872.7 522.1 873.3 487.8 873.9 493.3 874.5 516.8 875.1 528.8 875.7 493.2 876.3 516.7 876.9 521.5 877.5 504.2 878.1 526.4 878.7 485.2 879.3 504.3 879.9 511.9 880.5 502 881.1 496.4 881.7 493.4 882.3 514.3 882.9 483.8 883.5 507.5 884.1 499.6 884.7 529.3 885.3 486.6 885.9 499.4 886.5 518.1 887.1 502.7 887.7 483.4 888.3 530.2 888.9 497.8 889.5 483 890.1 526.3 890.7 502.8 891.3 494.4 891.9 540.9 892.5 509.7 893.1 504.6 893.7 498.9 894.3 497 894.9 501.5 895.5 490 896.1 501.6 896.7 542.3 897.3 490.5 897.9 514.2 898.5 525.9 899.1 498.9 899.7 499.4 900.3 527.5 900.9 482.7 901.5 505 902.1 510.3 902.7 493 903.3 505.4 903.9 499.9 904.5 509.2 905.1 496.2 905.7 508.6 906.3 499.4 906.9 535.3 907.5 476.9 908.1 498 908.7 522.7 909.3 516.1 909.9 507.3 910.5 477.7 911.1 489.2 911.7 501.8 912.3 504.1 912.9 507.3 913.5 498.2 914.1 509.7 914.7 502.3 915.3 478.1 915.9 525.3 916.5 495.8 917.1 527.5 917.7 482.4 918.3 521.1 918.9 506.6 919.5 542.5 920.1 509 920.7 506.4 921.3 530.1 921.9 476.4 922.5 519.7 923.1 522.3 923.7 517.4 924.3 512.4 924.9 499 925.5 518.7 926.1 502.9 926.7 488.6 927.3 492.1 927.9 502.7 928.5 513.5 929.1 509.2 929.7 525.6 930.3 480.5 930.9 509 931.5 501 932.1 498.6 932.7 481.7 933.3 536.2 933.9 472.7 934.5 513.5 935.1 485.3 935.7 510.9 936.3 524.1 936.9 486.3 937.5 507 938.1 477.8 938.7 532.7 939.3 528.8 939.9 486.3 940.5 505.2 941.1 522.6 941.7 498.3 942.3 504 942.9 488.5 943.5 542.7 944.1 509.8 944.7 498.4 945.3 509.7 945.9 497.9 946.5 482.3 947.1 502.6 947.7 517.8 948.3 500.2 948.9 490 949.5 527.6 950.1 506.3 950.7 489.5 951.3 513.8 951.9 524.4 952.5 480.9 953.1 528.1 953.7 494.7 954.3 507.2 954.9 497.4 955.5 497.1 956.1 524.7 956.7 486.2 957.3 499.2 957.9 497.7 958.5 494.4 959.1 516 959.7 522.9 960.3 499.5 960.9 543 961.5 488.5 962.1 511.4 962.7 510.8 963.3 495 963.9 518.8 964.5 511.9 965.1 508.3 965.7 508.2 966.3 505.5 966.9 518.1 967.5 473.8 968.1 534.3 968.7 502.7 969.3 499.5 969.9 496.9 970.5 535.4 971.1 492.7 971.7 516.2 972.3 497.9 972.9 516 973.5 514.3 974.1 515.8 974.7 489.1 975.3 511.9 975.9 518 976.5 491.5 977.1 513.7 977.7 511.4 978.3 498.5 978.9 506 979.5 483.9 980.1 543.2 980.7 516.7 981.3 518.8 981.9 509.3 982.5 474.9 983.1 527.1 983.7 491.9 984.3 469.2 984.9 536.4 985.5 493.3 986.1 502.2 986.7 490.3 987.3 513.7 987.9 514.6 988.5 496.6 989.1 489.4 989.7 510.8 990.3 492 990.9 533.5 991.5 487.1 992.1 540.1 992.7 499.7 993.3 514.1 993.9 494.4 994.5 508.3 995.1 510.1 995.7 501.7 996.3 498.6 996.9 504.5 997.5 508.6 998.1 509.9 998.7 500 999.3 533.5 999.9 542.4 1000.5 498.8 1001.1 534.9 1001.7 529.7 1002.3 491.9 1002.9 554.4 1003.5 491.5 1004.1 541.8 1004.7 481.1 1005.3 495.3 1005.9 512.6 1006.5 516.7 1007.1 526.7 1007.7 477.7 1008.3 556.5 1008.9 478 1009.5 492.5 1010.1 510.6 1010.7 507.9 1011.3 556.5 1011.9 456.5 1012.5 544.1 1013.1 512.5 1013.7 475.6 1014.3 524.6 1014.9 471.4 1015.5 490.9 1016.1 516.9 1016.7 502.3 1017.3 530.9 1017.9 504.8 1018.5 494.1 1019.1 524.5 1019.7 505 1020.3 502.6 1020.9 501.6 1021.5 489.1 1022.1 526.5 1022.7 481.9 1023.3 524.2 1023.9 491.9 1024.5 505.3 1025.1 522.4 1025.7 506.3 1026.3 507 1026.9 531.7 1027.5 494.4 1028.1 527 1028.7 495.4 1029.3 519.1 1029.9 517.6 1030.5 512.4 1031.1 511.3 1031.7 502.4 1032.3 529.3 1032.9 516.5 1033.5 478.9 1034.1 488.2 1034.7 497.9 1035.3 488 1035.9 517.8 1036.5 519.3 1037.1 519.2 1037.7 482.3 1038.3 512.4 1038.9 496.5 1039.5 526 1040.1 489.3 1040.7 500.7 1041.3 500.1 1041.9 519.3 1042.5 492.4 1043.1 500.4 1043.7 500 1044.3 519.4 1044.9 504.5 1045.5 530.2 1046.1 512.2 1046.7 486.7 1047.3 502.7 1047.9 534.5 1048.5 497.3 1049.1 502.8 1049.7 529.5 1050.3 488 1050.9 536.6 1051.5 497.8 1052.1 477.9 1052.7 543.9 1053.3 479.4 1053.9 526.1 1054.5 495.7 1055.1 514.6 1055.7 488.6 1056.3 501.3 1056.9 491.8 1057.5 521.1 1058.1 507.7 1058.7 524.6 1059.3 487.2 1059.9 539 1060.5 487.7 1061.1 508.2 1061.7 484.4 1062.3 536.1 1062.9 499.3 1063.5 500.6 1064.1 503.5 1064.7 498.1 1065.3 522.9 1065.9 510.9 1066.5 510.2 1067.1 492.7 1067.7 492.8 1068.3 522.1 1068.9 494.9 1069.5 511.1 1070.1 494.3 1070.7 509.3 1071.3 491.7 1071.9 500.7 1072.5 504 1073.1 492.8 1073.7 493.5 1074.3 537.5 1074.9 490.5 1075.5 514.2 1076.1 477.6 1076.7 511.1 1077.3 504.2 1077.9 513.4 1078.5 522.9 1079.1 495.8 1079.7 519.2 1080.3 512.8 1080.9 495.8 1081.5 495.2 1082.1 527.4 1082.7 521.9 1083.3 502.2 1083.9 520 1084.5 507.3 1085.1 513.9 1085.7 521.6 1086.3 511.1 1086.9 494.5 1087.5 504.6 1088.1 513.1 1088.7 490.1 1089.3 508.9 1089.9 522 1090.5 509.7 1091.1 519.5 1091.7 501.5 1092.3 508.1 1092.9 516.3 1093.5 510.3 1094.1 489.5 1094.7 524.9 1095.3 478.3 1095.9 544.4 1096.5 489.4 1097.1 505.4 1097.7 496.5 1098.3 508.8 1098.9 499.6 1099.5 535.4 1100.1 483.1 1100.7 521.8 1101.3 501.7 1101.9 508.1 1102.5 495.3 1103.1 513.1 1103.7 501.9 1104.3 501.5 1104.9 483.8 1105.5 527.1 1106.1 488 1106.7 525.5 1107.3 496.2 1107.9 502 1108.5 487.5 1109.1 522.5 1109.7 506.5 1110.3 502.7 1110.9 508.4 1111.5 504.9 1112.1 510.5 1112.7 518.4 1113.3 499.1 1113.9 498.5 1114.5 533.6 1115.1 470.8 1115.7 487.3 1116.3 482.7 1116.9 525.4 1117.5 508.8 1118.1 514.9 1118.7 513.3 1119.3 499 1119.9 511.5 1120.5 522.6 1121.1 483.8 1121.7 512.2 1122.3 513.5 1122.9 519.9 1123.5 511.1 1124.1 501.8 1124.7 514.5 1125.3 519.4 1125.9 509.4 1126.5 470.7 1127.1 497.8 1127.7 535 1128.3 529.6 1128.9 513.6 1129.5 528.5 1130.1 516.7 1130.7 519.5 1131.3 494.5 1131.9 509.9 1132.5 514.3 1133.1 533.4 1133.7 506.1 1134.3 499.5 1134.9 522.5 1135.5 497.3 1136.1 526.8 1136.7 500.5 1137.3 511.3 1137.9 515.2 1138.5 522.1 1139.1 498.4 1139.7 506.7 1140.3 490.9 1140.9 528.4 1141.5 502.2 1142.1 487.2 1142.7 494.9 1143.3 503.3 1143.9 497 1144.5 494.5 1145.1 505.9 1145.7 524.3 1146.3 510.2 1146.9 525.5 1147.5 482 1148.1 523.3 1148.7 506.3 1149.3 537.9 1149.9 523.3 1150.5 509.4 1151.1 504.1 1151.7 518.6 1152.3 491.8 1152.9 511 1153.5 518.8 1154.1 498.8 1154.7 509.1 1155.3 494.2 1155.9 505.9 1156.5 498.3 1157.1 517.5 1157.7 476.5 1158.3 510.6 1158.9 485.2 1159.5 525.3 1160.1 510.8 1160.7 517.6 1161.3 490.2 1161.9 529.5 1162.5 521.9 1163.1 499 1163.7 518.5 1164.3 503.1 1164.9 530 1165.5 507.9 1166.1 522.2 1166.7 485 1167.3 494 1167.9 512.6 1168.5 486.6 1169.1 500.3 1169.7 525.9 1170.3 496.8 1170.9 510.8 1171.5 510.3 1172.1 480.8 1172.7 534.2 1173.3 529.7 1173.9 498.7 1174.5 518.8 1175.1 528.4 1175.7 496 1176.3 505 1176.9 518.8 1177.5 497.5 1178.1 527.8 1178.7 487.6 1179.3 518.1 1179.9 504.1 1180.5 503.4 1181.1 487.6 1181.7 529.2 1182.3 524 1182.9 492.9 1183.5 504.2 1184.1 507.5 1184.7 491.9 1185.3 527.8 1185.9 501.4 1186.5 501.9 1187.1 523.3 1187.7 492.4 1188.3 545.2 1188.9 507.4 1189.5 524 1190.1 496 1190.7 511.5 1191.3 496.9 1191.9 508.3 1192.5 499.7 1193.1 534.2 1193.7 508.3 1194.3 492.6 1194.9 505.3 1195.5 513.4 1196.1 492.3 1196.7 534.1 1197.3 494.6 1197.9 512.8 1198.5 507.6 1199.1 509.2 1199.7 519.8 1200.3 497.3 1200.9 512.2 1201.5 501.2 1202.1 478.1 1202.7 520.9 1203.3 535.7 1203.9 500.2 1204.5 504.3 1205.1 519.8 1205.7 483 1206.3 524 1206.9 483.4 1207.5 517.9 1208.1 503.8 1208.7 529.3 1209.3 480.8 1209.9 536.4 1210.5 514.6 1211.1 514.6 1211.7 509.1 1212.3 481.8 1212.9 522.8 1213.5 504.6 1214.1 521.1 1214.7 495.6 1215.3 531.7 1215.9 492.1 1216.5 490.4 1217.1 476.8 1217.7 531.6 1218.3 495.4 1218.9 513.5 1219.5 500 1220.1 516 1220.7 504.9 1221.3 520.6 1221.9 509.4 1222.5 508.7 1223.1 507 1223.7 511 1224.3 508.8 1224.9 499 1225.5 513.3 1226.1 509.6 1226.7 512.4 1227.3 487.8 1227.9 525.2 1228.5 498.5 1229.1 495.6 1229.7 503.1 1230.3 528.9 1230.9 503 1231.5 512.1 1232.1 530.2 1232.7 522.7 1233.3 502.3 1233.9 525.4 1234.5 500 1235.1 516.2 1235.7 499 1236.3 532.8 1236.9 519.6 1237.5 494.4 1238.1 525.6 1238.7 479.7 1239.3 532.8 1239.9 500.5 1240.5 503.5 1241.1 499.9 1241.7 525.9 1242.3 496.6 1242.9 524.3 1243.5 517.7 1244.1 506.5 1244.7 491.8 1245.3 529.4 1245.9 503.3 1246.5 505.9 1247.1 533.2 1247.7 504.6 1248.3 505.7 1248.9 500.6 1249.5 512.6 1250.1 509.7 1250.7 508.1 1251.3 533.1 1251.9 523.3 1252.5 507.6 1253.1 510 1253.7 479.4 1254.3 531.9 1254.9 490.5 1255.5 543.6 1256.1 501.9 1256.7 506.2 1257.3 503.1 1257.9 505.6 1258.5 494.6 1259.1 511.8 1259.7 504.7 1260.3 504.1 1260.9 474.3 1261.5 518.6 1262.1 495.4 1262.7 498 1263.3 514.8 1263.9 491.3 1264.5 519.5 1265.1 503.5 1265.7 526.3 1266.3 511 1266.9 475.3 1267.5 510.9 1268.1 519.4 1268.7 517.8 1269.3 502.1 1269.9 524.3 1270.5 504.4 1271.1 509.5 1271.7 515.4 1272.3 493 1272.9 522.9 1273.5 505.1 1274.1 521.8 1274.7 518 1275.3 496.7 1275.9 498.8 1276.5 487.2 1277.1 512.4 1277.7 529.2 1278.3 514.6 1278.9 501.8 1279.5 508.4 1280.1 507 1280.7 507.7 1281.3 513.8 1281.9 518.4 1282.5 498.9 1283.1 526.6 1283.7 477.4 1284.3 510.2 1284.9 506.2 1285.5 541.6 1286.1 501.7 1286.7 509.2 1287.3 506.9 1287.9 507.6 1288.5 496 1289.1 511.9 1289.7 513.5 1290.3 507.2 1290.9 515.1 1291.5 486.6 1292.1 527.8 1292.7 527.8 1293.3 491.8 1293.9 532.7 1294.5 498.4 1295.1 541.4 1295.7 525.6 1296.3 485.6 1296.9 521" stroke="#000" stroke-width="1" fill="none"/>
<path d="M325.5 502.8 327.1 502.1 328.7 505.5 330.3 501.8 331.9 503.3 333.5 501.2 335.1 505.8 336.7 506.4 338.3 507.4 339.9 504.5 341.5 504.7 343.1 504.4 344.7 503.4 346.3 504.7 347.9 503 349.5 503.6 351.1 506 352.7 505.6 354.3 504.1 355.9 508.1 357.5 506.2 359.1 503.5 360.7 504.3 362.3 504 363.9 504 365.5 504.1 367.1 508.2 368.7 506.2 370.3 504.7 371.9 505.6 373.5 508.5 375.1 505.5 376.7 503.1 378.3 508.2 379.9 503.9 381.5 503 383.1 505.5 384.7 509.4 386.3 504.6 387.9 499.5 389.5 504.1 391.1 505 392.7 504.4 394.3 505.4 395.9 505.5 397.5 505.4 399.1 504.1 400.7 506.6 402.3 508.2 403.9 505.6 405.5 503.5 407.1 505.4 408.7 506.2 410.3 503.4 411.9 503.2 413.5 506.4 415.1 505.6 416.7 504.1 418.3 504.7 419.9 504.9 421.5 504.8 423.1 501.5 424.7 506.6 426.3 506.6 427.9 503.5 429.5 505.6 431.1 505.9 432.7 505 434.3 506.4 435.9 509.1 437.5 506.9 439.1 507.1 440.7 508.8 442.3 503.9 443.9 502.6 445.5 505.6 447.1 502.7 448.7 503.4 450.3 507 451.9 507.7 453.5 506.2 455.1 501.4 456.7 507.2 458.3 507.4 459.9 506.4 461.5 505.5 463.1 501.7 464.7 501.1 466.3 502.2 467.9 508.1 469.5 505.2 471.1 503.7 472.7 503.9 474.3 505.7 475.9 506.2 477.5 505.5 479.1 502.6 480.7 498.5 482.3 503.4 483.9 506.4 485.5 507.8 487.1 505.3 488.7 503.2 490.3 504.8 491.9 502.6 493.5 502.2 495.1 502.8 496.7 505.2 498.3 509 499.9 507.5 501.5 506.6 503.1 505.2 504.7 505 506.3 504 507.9 504 509.5 500.6 511.1 501.5 512.7 502.5 514.3 506.2 515.9 507 517.5 507.2 519.1 507.7 520.7 504.7 522.3 505.8 523.9 508.5 525.5 505.8 527.1 506.1 528.7 504.7 530.3 501.7 531.9 503.9 533.5 503.9 535.1 504.9 536.7 504.3 538.3 505.1 539.9 501.4 541.5 507.1 543.1 508.8 544.7 505 546.3 502.3 547.9 503.9 549.5 506.2 551.1 506.3 552.7 505.6 554.3 501.4 555.9 501.5 557.5 506.8 559.1 506.7 560.7 502.4 562.3 502 563.9 502 565.5 502.8 567.1 506.8 568.7 505.6 570.3 506.5 571.9 505.5 573.5 502 575.1 502.5 576.7 508.6 578.3 505.4 579.9 502.2 581.5 505.9 583.1 506 584.7 504.9 586.3 507.1 587.9 502.5 589.5 504.2 591.1 503.3 592.7 502 594.3 502.8 595.9 506.8 597.5 505.8 599.1 501.5 600.7 501.5 602.3 507.1 603.9 508.2 605.5 503.5 607.1 507.7 608.7 505.5 610.3 502.2 611.9 503.5 613.5 506.6 615.1 508.6 616.7 507.5 618.3 504 619.9 502.9 621.5 501.8 623.1 504.1 624.7 504.3 626.3 505.2 627.9 502.9 629.5 503.1 631.1 503.2 632.7 502.6 634.3 502.4 635.9 502.7 637.5 502.6 639.1 505.5 640.7 505.8 642.3 502.7 643.9 504.7 645.5 505.8 647.1 507.7 648.7 505.2 650.3 503.9 651.9 503.2 653.5 504.7 655.1 506 656.7 505.6 658.3 504.3 659.9 505.4 661.5 505.3 663.1 505.2 664.7 503.2 666.3 504.5 667.9 503.4 669.5 502.9 671.1 504.8 672.7 508.9 674.3 508 675.9 504.9 677.5 503.7 679.1 506.1 680.7 507.9 682.3 507.7 683.9 504.7 685.5 504.4 687.1 504.1 688.7 504.2 690.3 503.3 691.9 504 693.5 501.2 695.1 501.6 696.7 505.3 698.3 504.2 699.9 505.4 701.5 502.9 703.1 503.4 704.7 505.5 706.3 503.6 707.9 503 709.5 508.8 711.1 505.5 712.7 502.8 714.3 502.9 715.9 504.7 717.5 505.2 719.1 506.7 720.7 506.7 722.3 504.3 723.9 503.5 725.5 502 727.1 501.5 728.7 503.1 730.3 506.3 731.9 506 733.5 506.2 735.1 506.6 736.7 504.8 738.3 508 739.9 505 741.5 503 743.1 503.4 744.7 506.7 746.3 505.6 747.9 503.3 749.5 504.8 751.1 507.2 752.7 505.4 754.3 504 755.9 506.2 757.5 507.2 759.1 506.9 760.7 503.6 762.3 504.3 763.9 505.6 765.5 502.1 767.1 505.7 768.7 506 770.3 504.4 771.9 508.3 773.5 506.4 775.1 503.2 776.7 503.7 778.3 505.8 779.9 506.8 781.5 505.2 783.1 502.9 784.7 502.8 786.3 503.2 787.9 502.9 789.5 504.5 791.1 504.3 792.7 504.8 794.3 503.5 795.9 502.8 797.5 504.1 799.1 504.4 800.7 506.8 802.3 504 803.9 504.4 805.5 504.8 807.1 502.6 808.7 505.3 810.3 505.8 811.9 501.4 813.5 504.4 815.1 507.1 816.7 504.3 818.3 507 819.9 506 821.5 502.7 823.1 504.7 824.7 504.7 826.3 502.5 827.9 500.3 829.5 504.2 831.1 504.5 832.7 505.9 834.3 506 835.9 504 837.5 503.3 839.1 507.5 840.7 509.1 842.3 506.9 843.9 503.9 845.5 502.2 847.1 503.5 848.7 507.9 850.3 507 851.9 504.3 853.5 502 855.1 504.3 856.7 503.9 858.3 504.7 859.9 506.4 861.5 507.3 863.1 505.7 864.7 504 866.3 504.9 867.9 508.3 869.5 506.8 871.1 502.4 872.7 506.4 874.3 506.6 875.9 511.3 877.5 506.1 879.1 503.7 880.7 503.9 882.3 505.7 883.9 504.7 885.5 502.3 887.1 501 888.7 504.2 890.3 505 891.9 504.4 893.5 508.7 895.1 508.1 896.7 507.3 898.3 504.5 899.9 505 901.5 505.1 903.1 505 904.7 506.6 906.3 507 907.9 506.2 909.5 505.6 911.1 502.8 912.7 503.2 914.3 506 915.9 505.6 917.5 504.1 919.1 505.6 920.7 504.3 922.3 504 923.9 506.8 925.5 505.8 927.1 507.8 928.7 507.3 930.3 507.1 931.9 507.7 933.5 502.3 935.1 503.9 936.7 503.7 938.3 504.7 939.9 505.7 941.5 508.2 943.1 506.6 944.7 508.3 946.3 505.6 947.9 505 949.5 505.8 951.1 507.7 952.7 506.4 954.3 504.6 955.9 504.7 957.5 503.4 959.1 507.5 960.7 508.4 962.3 507.2 963.9 506.3 965.5 504.8 967.1 504.8 968.7 507.3 970.3 505.5 971.9 504.2 973.5 508.3 975.1 510 976.7 507.5 978.3 506.5 979.9 506.3 981.5 508.6 983.1 506.2 984.7 505.8 986.3 506.9 987.9 509.1 989.5 506.7 991.1 506.1 992.7 505.3 994.3 504.9 995.9 505 997.5 506.4 999.1 508.2 1000.7 505.8 1002.3 504.7 1003.9 505.3 1005.5 507.1 1007.1 508.2 1008.7 504.8 1010.3 506.1 1011.9 505.1 1013.5 507.3 1015.1 505.5 1016.7 504.1 1018.3 504.8 1019.9 506.4 1021.5 505.3 1023.1 506.6 1024.7 507.2 1026.3 507 1027.9 507.1 1029.5 508.2 1031.1 505.9 1032.7 506 1034.3 506.7 1035.9 503.4 1037.5 506.3 1039.1 506.1 1040.7 505.5 1042.3 505.8 1043.9 507 1045.5 507.7 1047.1 508 1048.7 505.9 1050.3 507.5 1051.9 508.1 1053.5 506.5 1055.1 506.5 1056.7 508.3 1058.3 508.3 1059.9 508.3 1061.5 507.3 1063.1 508.8 1064.7 511.4 1066.3 508.9 1067.9 503.9 1069.5 508.5 1071.1 507.4 1072.7 504.6 1074.3 502.1 1075.9 506.8 1077.5 510.2 1079.1 510.1 1080.7 506.8 1082.3 508.9 1083.9 507.8 1085.5 506.1 1087.1 506.8 1088.7 507.8 1090.3 507.7 1091.9 508 1093.5 503.8 1095.1 508.6 1096.7 507.8 1098.3 508.3 1099.9 506.3 1101.5 507.1 1103.1 507.3 1104.7 504.8 1106.3 507.3 1107.9 509.2 1109.5 506.3 1111.1 503.1 1112.7 505.2 1114.3 506.4 1115.9 508 1117.5 508 1119.1 510.4 1120.7 509.6 1122.3 507.2 1123.9 507.3 1125.5 502.8 1127.1 504.5 1128.7 506.3 1130.3 507.8 1131.9 508.7 1133.5 508.4 1135.1 509.4 1136.7 507 1138.3 507.7 1139.9 507.8 1141.5 507.9 1143.1 508.5 1144.7 507.6 1146.3 508 1147.9 508 1149.5 509.7 1151.1 508.4 1152.7 508.2 1154.3 512.4 1155.9 510.6 1157.5 508.7 1159.1 509.5 1160.7 506.7 1162.3 508.4 1163.9 509.8 1165.5 509.4 1167.1 509.8 1168.7 509.7 1170.3 510.3 1171.9 507.5 1173.5 508.1 1175.1 507.5 1176.7 510.1 1178.3 509.3 1179.9 506 1181.5 507.4 1183.1 506.9 1184.7 509.7 1186.3 508.6 1187.9 504.4 1189.5 506.3 1191.1 510.4 1192.7 510.2 1194.3 507.5 1195.9 508.8 1197.5 509.8 1199.1 511.3 1200.7 510.7 1202.3 509.2 1203.9 506.9 1205.5 508.3 1207.1 509.4 1208.7 509 1210.3 509.2 1211.9 506.7 1213.5 508.8 1215.1 509.2 1216.7 509.4 1218.3 508.6 1219.9 508 1221.5 508.9 1223.1 510.3 1224.7 508.7 1226.3 508.9 1227.9 507.5 1229.5 509 1231.1 509.2 1232.7 506.7 1234.3 510 1235.9 508.3 1237.5 508.5 1239.1 506.7 1240.7 505.3 1242.3 509.3 1243.9 507.6 1245.5 504.9 1247.1 507.5 1248.7 506.9 1250.3 508.3 1251.9 512.4 1253.5 509.7 1255.1 509.1 1256.7 509.9 1258.3 509.8 1259.9 509 1261.5 511.4 1263.1 509.9 1264.7 509.4 1266.3 509.3 1267.9 507 1269.5 509 1271.1 509.8 1272.7 510.6 1274.3 510.8 1275.9 512.1 1277.5 506.7 1279.1 506.8 1280.7 508.3 1282.3 508.2 1283.9 509.9 1285.5 509.7 1287.1 509.6 1288.7 506.7 1290.3 506.8 1291.9 509.1 1293.5 509.2 1295.1 508.5 1296.7 509" stroke="#cdc400" stroke-width="2.4" fill="none" stroke-linejoin="round"/>
<path d="M330.8 715L1303.7 693.2" stroke="#ff0000" stroke-width="4.2" stroke-linecap="round" fill="none"/>
<path d="M325.5 751.6 328.2 753.7 330.9 744 333.6 745.9 336.3 758.7 339 759.8 341.7 746 344.4 744.6 347.1 745.3 349.8 746.3 352.5 742.5 355.2 760.8 357.9 758.6 360.6 759.8 363.3 754.9 366 744.9 368.7 750.2 371.4 757.4 374.1 757.1 376.8 737.7 379.5 738.3 382.2 760.3 384.9 770.9 387.6 766.9 390.3 761.1 393 750.1 395.7 761.4 398.4 744.6 401.1 737 403.8 723 406.5 749.7 409.2 771.4 411.9 781.2 414.6 753.3 417.3 723 420 734.9 422.7 756 425.4 754.3 428.1 748 430.8 752.4 433.5 749.4 436.2 750.6 438.9 734.5 441.6 756.2 444.3 765.8 447 758.3 449.7 750.7 452.4 747.1 455.1 750.4 457.8 744.9 460.5 746.2 463.2 756.3 465.9 767.6 468.6 757.3 471.3 744.1 474 744.9 476.7 757.2 479.4 761.5 482.1 751.2 484.8 738.9 487.5 753 490.2 763.9 492.9 758.4 495.6 778.8 498.3 772.6 501 753.3 503.7 738.4 506.4 731.5 509.1 757.5 511.8 768.7 514.5 758.7 517.2 752.9 519.9 756.1 522.6 755.3 525.3 750.3 528 766.9 530.7 767.4 533.4 741.1 536.1 739.4 538.8 751.7 541.5 760.2 544.2 763 546.9 754.6 549.6 763.3 552.3 758.6 555 749.5 557.7 755.3 560.4 749.7 563.1 756.4 565.8 755 568.5 760.7 571.2 746.8 573.9 745 576.6 735.2 579.3 740.6 582 755.6 584.7 766.1 587.4 776.2 590.1 774 592.8 735.9 595.5 723 598.2 750.7 600.9 779.3 603.6 757.6 606.3 739.5 609 728.1 611.7 735.9 614.4 745.8 617.1 756 619.8 778.9 622.5 769.7 625.2 742.4 627.9 755 630.6 755.6 633.3 749.8 636 744.5 638.7 751.3 641.4 753.1 644.1 765.6 646.8 756.6 649.5 749.4 652.2 748 654.9 742.1 657.6 738.2 660.3 748.3 663 737.3 665.7 743.8 668.4 756.8 671.1 761.4 673.8 753.1 676.5 748.2 679.2 744.3 681.9 754.5 684.6 743.1 687.3 751.6 690 749 692.7 753.7 695.4 750 698.1 744.5 700.8 740 703.5 760.7 706.2 755.5 708.9 735.8 711.6 739.6 714.3 756.7 717 763.5 719.7 746.4 722.4 732.9 725.1 750.5 727.8 754.2 730.5 759.2 733.2 760.9 735.9 753 738.6 734 741.3 755.7 744 767.6 746.7 760.6 749.4 742 752.1 729.3 754.8 740.4 757.5 761.4 760.2 757.9 762.9 749.2 765.6 755.4 768.3 759.3 771 752.5 773.7 755.7 776.4 761.5 779.1 763 781.8 744.2 784.5 723 787.2 743.1 789.9 767.9 792.6 764.7 795.3 752.5 798 737.9 800.7 735.5 803.4 766.6 806.1 758.1 808.8 752.3 811.5 756 814.2 769.8 816.9 762.4 819.6 749.8 822.3 733.5 825 740.4 827.7 737.2 830.4 744.1 833.1 756.1 835.8 758.5 838.5 747.9 841.2 754.3 843.9 740.8 846.6 743 849.3 749.3 852 756 854.7 756.1 857.4 768.7 860.1 749.5 862.8 749.5 865.5 764 868.2 759.7 870.9 741.8 873.6 727.2 876.3 733.7 879 775.4 881.7 760 884.4 743.6 887.1 733.2 889.8 761.8 892.5 774.1 895.2 746.3 897.9 726.4 900.6 739.6 903.3 762.2 906 758.1 908.7 745.1 911.4 737.7 914.1 750.8 916.8 763.1 919.5 761.4 922.2 743.9 924.9 746 927.6 747.6 930.3 744.7 933 745.3 935.7 748.7 938.4 750.8 941.1 734.8 943.8 752.7 946.5 769.6 949.2 774.5 951.9 749.7 954.6 740.1 957.3 746.4 960 756.1 962.7 774.3 965.4 757.6 968.1 743.9 970.8 725.6 973.5 744.2 976.2 763.2 978.9 754.8 981.6 739.3 984.3 723 987 729.4 989.7 759.8 992.4 748.3 995.1 752.8 997.8 763.2 1000.5 751 1003.2 728.6 1005.9 723 1008.6 736.6 1011.3 754.6 1014 783.9 1016.7 760.1 1019.4 740.4 1022.1 748.7 1024.8 748.5 1027.5 748.5 1030.2 757.4 1032.9 751.1 1035.6 758 1038.3 775.4 1041 762 1043.7 733.2 1046.4 736.6 1049.1 757.3 1051.8 758.8 1054.5 750.4 1057.2 745.8 1059.9 752.6 1062.6 766.4 1065.3 755.8 1068 731.1 1070.7 723 1073.4 761.1 1076.1 776.9 1078.8 757.4 1081.5 759.3 1084.2 762.3 1086.9 773.3 1089.6 756.3 1092.3 732.1 1095 729.6 1097.7 756.3 1100.4 773.9 1103.1 766.3 1105.8 765.7 1108.5 762.3 1111.2 738 1113.9 738.1 1116.6 757.2 1119.3 757.6 1122 772.4 1124.7 769.1 1127.4 761.7 1130.1 740.2 1132.8 725.5 1135.5 748.6 1138.2 766 1140.9 757.5 1143.6 743.7 1146.3 743.3 1149 752.4 1151.7 755.6 1154.4 757.4 1157.1 778.8 1159.8 776 1162.5 743 1165.2 746.4 1167.9 749.2 1170.6 738.8 1173.3 731.2 1176 727.6 1178.7 760.2 1181.4 763.9 1184.1 739.8 1186.8 728.9 1189.5 742.3 1192.2 749.5 1194.9 750.9 1197.6 751.9 1200.3 757.6 1203 745.9 1205.7 747.9 1208.4 754.9 1211.1 760.9 1213.8 749.8 1216.5 732.2 1219.2 748 1221.9 767.9 1224.6 758.2 1227.3 736.3 1230 742.2 1232.7 774.3 1235.4 776.4 1238.1 774.5 1240.8 751.3 1243.5 737.3 1246.2 746 1248.9 767.5 1251.6 751.7 1254.3 740.9 1257 755.3 1259.7 746.7 1262.4 747.1 1265.1 758.4 1267.8 774.6 1270.5 776.1 1273.2 750.5 1275.9 751.7 1278.6 741.5 1281.3 731.1 1284 756.8 1286.7 775.5 1289.4 752.7 1292.1 744.5 1294.8 753.4" stroke="#c4c4c4" stroke-width="2.1" fill="none" stroke-linejoin="round"/>
<path d="M1135 638.6H1296.5M1135 631.5V645.7M1296.5 631.5V645.7" stroke="#c4c4c4" stroke-width="3.8" fill="none"/>
<path d="M211.7 427.4V585.3M204.8 427.4H218.8M204.8 585.3H218.8" stroke="#c4c4c4" stroke-width="2.5" fill="none"/>
<circle cx="211.7" cy="506.6" r="4.2" fill="#000"/>
<text transform="translate(244 506.7) rotate(-90) scale(1.0 1.01)" font-size="24.1" text-anchor="middle">Typical noise level</text>
<path d="M163.3 110.6V902.8H1459.2V110.6Z" stroke="#000" stroke-width="2.3" fill="none"/>
<path d="M1330 110.6H1362" stroke="#00a0a0" stroke-opacity="0.6" stroke-width="2"/>
<rect x="166.7" y="18.3" width="372.8" height="163" fill="#fff" stroke="#8c8c8c" stroke-width="1.1"/>
<path d="M204 39.3H260.2" stroke="#3333ff" stroke-width="1"/>
<circle cx="232.3" cy="39.3" r="4.2" fill="#0000ff"/>
<path d="M204 69.7H260.2" stroke="#33d0d0" stroke-width="1"/>
<circle cx="232.3" cy="69.7" r="4.2" fill="#00c8c8"/>
<path d="M204 100.1H260.2" stroke="#000" stroke-width="2.8"/>
<path d="M204 130.5H260.2" stroke="#c0c0c0" stroke-width="3"/>
<path d="M204 161.0H260.2" stroke="#ff5050" stroke-width="1"/>
<circle cx="232.3" cy="161.0" r="4.2" fill="#ff0000"/>
<text transform="translate(279 48) scale(1.0 1.01)" font-size="24.1">Pressure</text>
<text transform="translate(279 78.4) scale(1.0 1.01)" font-size="24.1">dP/dt low-passed</text>
<text transform="translate(279 108.8) scale(1.0 1.01)" font-size="24.1">Residual</text>
<text transform="translate(279 139.2) scale(1.0 1.01)" font-size="24.1">... last 10 min.</text>
<text transform="translate(279 169.7) scale(1.0 1.01)" font-size="24.1">Theor.Tide</text>
<text transform="translate(142 913.3) scale(1.0 1.05)" font-size="27.3" text-anchor="end">-100</text>
<text transform="translate(142 834.1) scale(1.0 1.05)" font-size="27.3" text-anchor="end">-80</text>
<text transform="translate(142 754.9) scale(1.0 1.05)" font-size="27.3" text-anchor="end">-60</text>
<text transform="translate(142 675.6) scale(1.0 1.05)" font-size="27.3" text-anchor="end">-40</text>
<text transform="translate(142 596.4) scale(1.0 1.05)" font-size="27.3" text-anchor="end">-20</text>
<text transform="translate(142 517.2) scale(1.0 1.05)" font-size="27.3" text-anchor="end">0</text>
<text transform="translate(142 438) scale(1.0 1.05)" font-size="27.3" text-anchor="end">20</text>
<text transform="translate(142 358.8) scale(1.0 1.05)" font-size="27.3" text-anchor="end">40</text>
<text transform="translate(142 279.5) scale(1.0 1.05)" font-size="27.3" text-anchor="end">60</text>
<text transform="translate(142 200.3) scale(1.0 1.05)" font-size="27.3" text-anchor="end">80</text>
<text transform="translate(142 121.1) scale(1.0 1.05)" font-size="27.3" text-anchor="end">100</text>
<text transform="translate(163.3 943.9) scale(1.0 1.05)" font-size="27.3" text-anchor="middle">-10</text>
<text transform="translate(325.3 943.9) scale(1.0 1.05)" font-size="27.3" text-anchor="middle">0</text>
<text transform="translate(487.3 943.9) scale(1.0 1.05)" font-size="27.3" text-anchor="middle">10</text>
<text transform="translate(649.3 943.9) scale(1.0 1.05)" font-size="27.3" text-anchor="middle">20</text>
<text transform="translate(811.2 943.9) scale(1.0 1.05)" font-size="27.3" text-anchor="middle">30</text>
<text transform="translate(973.2 943.9) scale(1.0 1.05)" font-size="27.3" text-anchor="middle">40</text>
<text transform="translate(1135.2 943.9) scale(1.0 1.05)" font-size="27.3" text-anchor="middle">50</text>
<text transform="translate(1297.2 943.9) scale(1.0 1.05)" font-size="27.3" text-anchor="middle">60</text>
<text transform="translate(1459.2 943.9) scale(1.0 1.05)" font-size="27.3" text-anchor="middle">70</text>
<text transform="translate(1481 185.9) scale(1.0 1.05)" font-size="27.3">1027.5</text>
<text transform="translate(1481 252.1) scale(1.0 1.05)" font-size="27.3">1027.0</text>
<text transform="translate(1481 318.3) scale(1.0 1.05)" font-size="27.3">1026.5</text>
<text transform="translate(1481 384.5) scale(1.0 1.05)" font-size="27.3">1026.0</text>
<text transform="translate(1481 450.7) scale(1.0 1.05)" font-size="27.3">1025.5</text>
<text transform="translate(1551 582.9) scale(1.0 1.05)" font-size="27.3" text-anchor="end">1000</text>
<text transform="translate(1551 648.9) scale(1.0 1.05)" font-size="27.3" text-anchor="end">500</text>
<text transform="translate(1551 714.9) scale(1.0 1.05)" font-size="27.3" text-anchor="end">0</text>
<text transform="translate(1551 781) scale(1.0 1.05)" font-size="27.3" text-anchor="end">-500</text>
<text transform="translate(1551 847) scale(1.0 1.05)" font-size="27.3" text-anchor="end">-1000</text>
<text transform="translate(1551 913) scale(1.0 1.05)" font-size="27.3" text-anchor="end">-1500</text>
<text transform="translate(1387.6 213.5) rotate(-90) scale(1.0 1.01)" font-size="24.2" text-anchor="end">1 DIV = 0.5 hPa/h</text>
<text transform="translate(1425.8 212.3) rotate(-90) scale(1.0 1.01)" font-size="23.9" text-anchor="end">average = -0.3167</text>
<text transform="translate(996.8 82.3) scale(1.0 1.01)" font-size="32.3" text-anchor="middle" font-weight="bold">SCG_054 gravimeter Onsala Space Observatory, Sweden</text>
<text transform="translate(192.5 887.8) scale(1.0 1.01)" font-size="27.95" font-weight="bold">The latest 1-hour, 1-second sampling</text>
<text transform="translate(1430.5 887.8) scale(1.0 1.01)" font-size="27.9" text-anchor="end" font-weight="bold">End at 2025-10-18 12:00:59 UTC</text>
<text transform="translate(810.8 1005.7) scale(1.0 1.01)" font-size="48.4" text-anchor="middle">Time [min] from 2025-10-18 11:01:00 UTC</text>
<text transform="translate(59.3 506.9) rotate(-90) scale(1.0 1.01)" font-size="48.2" text-anchor="middle">Obs’d Gravity [nm/s<tspan font-size="34" dy="-17">2</tspan><tspan dy="17">]</tspan></text>
<text transform="translate(1627 308.1) rotate(-90) scale(1.0 1.01)" font-size="48" text-anchor="middle">Pressure [hPa]</text>
<text transform="translate(1612 704.2) rotate(-90) scale(1.0 1.01)" font-size="48.5" text-anchor="middle">Tide [nm/s<tspan font-size="34" dy="-17">2</tspan><tspan dy="17">]</tspan></text>
</svg></body></html>
